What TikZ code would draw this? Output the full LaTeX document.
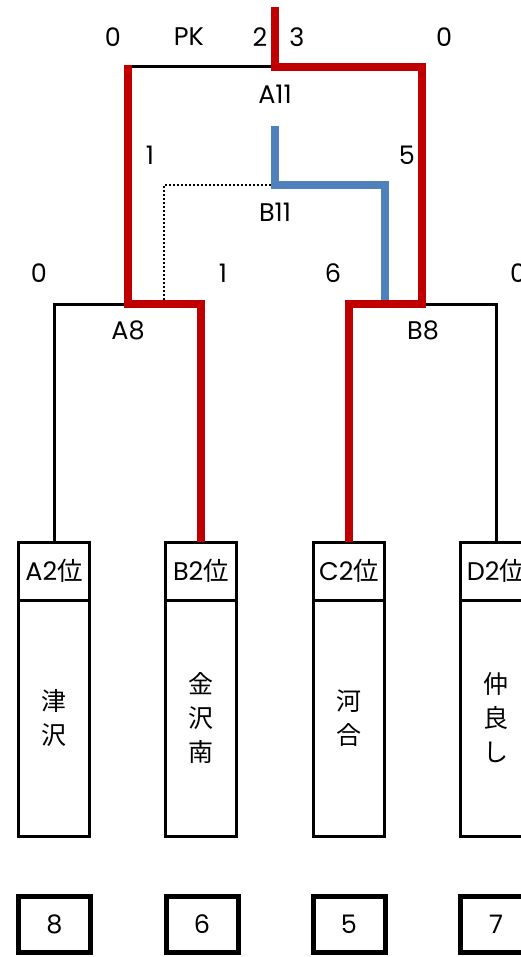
\documentclass[tikz,border=0pt]{standalone}
\usepackage{fontspec}
\setmainfont{Poppins}
\newfontfamily\jp{Noto Sans CJK JP}
\usepackage{tikz}
\usetikzlibrary{calc}
\usetikzlibrary{positioning}
\definecolor{winred}{HTML}{C00000}
\definecolor{pkblue}{HTML}{4F81BD}
\tikzstyle{winline}= [line width=8pt, draw=winred]
\tikzstyle{pkline}= [line width=8pt, draw=pkblue]
\tikzstyle{plainline}= [line width=3pt, draw=black]
\tikzstyle{lostline}= [line width=2pt, dash pattern=on 2pt off 2pt]

\begin{document}
\begin{tikzpicture}[
		x=1pt,y=-1pt,
		node distance=0pt,
		font=\fontsize{25.5}{34}\selectfont,
    seed/.style={
    draw,line width=3pt,outer sep=0pt,inner sep=0pt,
    minimum width=71pt,minimum height=58pt,
    },
    team/.style={
    draw,line width=3pt,outer sep=0pt,inner sep=0pt,align=center,
    minimum width=71pt,minimum height=236pt,
    font=\jp\fontsize{25}{34}\selectfont,
    },
    score/.style={
    draw,line width=5pt,inner sep=0pt,
    minimum width=72pt,minimum height=56pt,
    },
    lbl/.style={inner sep=0pt}
	]
  \useasboundingbox (0,0) rectangle (521,957);
  \clip (0,0) rectangle (521,957);

  \node[seed] (a2) at (54,571) {A2{\jp 位}};
  \node[seed] (b2) at (201,571) {B2{\jp 位}};
  \node[seed] (c2) at (349,571) {C2{\jp 位}};
  \node[seed] (d2) at (496,571) {D2{\jp 位}};
  \node[team,below=of a2] (tsuzawa) {津\\沢};
  \node[team,below=of b2] (kanazawaminami) {金\\沢\\南};
  \node[team,below=of c2] (kawai) {河\\合};
  \node[team,below=of d2] (nakayoshi) {仲\\良\\し};
  \node[score] (pa) at (54.5,924.5) {8};
  \node[score] (pb) at (202,924.5) {6};
  \node[score] (pc) at (349,924.5) {5};
  \node[score] (pd) at (496,924.5) {7};

  \node[lbl] (fleft) at (113,37) {0};
  \node[lbl] (pk) at (189,37) {PK};
  \node[lbl] (fpkl) at (260,37) {2};
  \node[lbl] (fpkr) at (297,37) {3};
  \node[lbl] (fright) at (444,37) {0};
  \node[lbl] (la11) at (275,94) {A11};
  \node[lbl] (sleft) at (150,155) {1};
  \node[lbl] (sright) at (407,155) {5};
  \node[lbl] (lb11) at (275,212) {B11};
  \node[lbl] (qa) at (39,273) {0};
  \node[lbl] (qb) at (223,273) {1};
  \node[lbl] (qc) at (333,273) {6};
  \node[lbl] (qd) at (518,273) {0};
  \node[lbl] (la8) at (128,330) {A8};
  \node[lbl] (lb8) at (423,330) {B8};

  \coordinate (jtop) at (275,7);
  \coordinate (ja11) at (275,67);
  \coordinate (ja11l) at (128,65);
  \coordinate (ja8) at (128,304);
  \coordinate (jb8) at (422,304);
  \coordinate (jb11t) at (275,126);
  \coordinate (jb11) at (275,185);
  \coordinate (jb11l) at (164,185);
  \coordinate (jb11r) at (385,304);

  \draw[plainline] (ja11) -- (ja11 -| ja11l);
  \draw[plainline] (ja8) -| (a2.north);
  \draw[plainline] (jb8) -| (d2.north);
  \draw[lostline] (jb11l |- ja8) -- (jb11l) -- (jb11);
  \draw[pkline] (jb11t) -- (jb11) -| (jb11r);
  \draw[winline] (jtop) -- (ja11) -| (jb8) -| (c2.north);
  \draw[winline] (ja11l) -- (ja8) -| (b2.north);
\end{tikzpicture}
\end{document}
